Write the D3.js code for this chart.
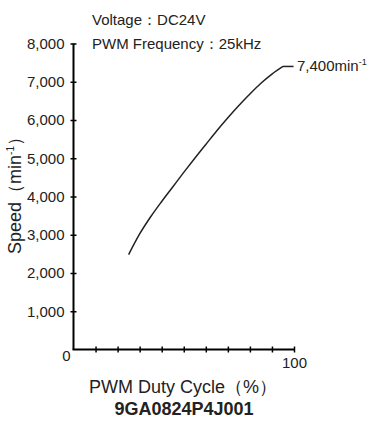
<!DOCTYPE html>
<html>
<head>
<meta charset="utf-8">
<script src="https://cdn.jsdelivr.net/npm/d3@7"></script>
<style>
  body { margin: 0; background: #fff; }
  text { font-family: "Liberation Sans", Arial, sans-serif; fill: #222; }
</style>
</head>
<body>
<script>
// speed vs PWM duty
var duty  = [25, 30, 35, 40, 45, 50, 55, 60, 65, 70, 75, 80, 85, 90, 95];
var speed = [2480, 3020, 3470, 3870, 4250, 4630, 5000, 5360, 5720, 6060, 6380, 6680, 6960, 7200, 7400];

var yTicks = [1000, 2000, 3000, 4000, 5000, 6000, 7000, 8000];
var xTicks = [10, 20, 30, 40, 50, 60, 70, 80, 90, 100];
var notes = ['Voltage：DC24V', 'PWM Frequency：25kHz'];
var maxLabel = '7,400min';
var model = '9GA0824P4J001';

var width = 377, height = 421;

var svg = d3.select('body').append('svg')
    .attr('width', width)
    .attr('height', height);

var x = d3.scaleLinear().domain([0, 100]).range([73.5, 294]);
var y = d3.scaleLinear().domain([0, 8000]).range([349.5, 43.5]);

// y axis
var yAxis = svg.append('g')
    .attr('transform', 'translate(' + x(0) + ',0)')
    .call(d3.axisLeft(y).tickValues(yTicks).tickSizeInner(3).tickSizeOuter(0)
      .tickPadding(6).tickFormat(d3.format(',')));
yAxis.select('.domain').attr('stroke', '#000').attr('stroke-width', 2)
    .attr('d', 'M0,' + y(8000) + 'V' + y(0));
yAxis.selectAll('.tick line').attr('x1', 3).attr('stroke', '#000').attr('stroke-width', 1.5);
yAxis.selectAll('.tick text').style('font-size', '15px').style('fill', '#222')
    .attr('font-family', null);

// x axis
var xAxis = svg.append('g')
    .attr('transform', 'translate(0,' + y(0) + ')')
    .call(d3.axisBottom(x).tickValues(xTicks).tickSizeInner(3).tickSizeOuter(0)
      .tickPadding(5).tickFormat(function(d) { return d === 100 ? '100' : ''; }));
xAxis.select('.domain').attr('stroke', '#000').attr('stroke-width', 2)
    .attr('d', 'M' + (x(0) - 1) + ',0H' + x(100));
xAxis.selectAll('.tick line').attr('y1', -3).attr('stroke', '#000').attr('stroke-width', 1.5);
xAxis.selectAll('.tick text').style('font-size', '15px').style('fill', '#222')
    .attr('font-family', null);

// origin label
svg.append('text')
    .attr('x', x(0) - 7)
    .attr('y', y(0) + 11)
    .attr('text-anchor', 'middle')
    .style('font-size', '15px')
    .text('0');

// curve
var line = d3.line()
    .x(function(d, i) { return x(duty[i]); })
    .y(function(d) { return y(d); })
    .curve(d3.curveMonotoneX);

svg.append('path')
    .datum(speed)
    .attr('d', line)
    .attr('fill', 'none')
    .attr('stroke', '#222')
    .attr('stroke-width', 1.5);

// leader line to the max speed label
var last = speed[speed.length - 1];
svg.append('line')
    .attr('x1', x(duty[duty.length - 1]))
    .attr('x2', x(99.8))
    .attr('y1', y(last))
    .attr('y2', y(last))
    .attr('stroke', '#222')
    .attr('stroke-width', 1.5);

var maxText = svg.append('text')
    .attr('x', x(100) + 3)
    .attr('y', y(last) + 5)
    .style('font-size', '15px')
    .text(maxLabel);
maxText.append('tspan')
    .attr('dy', -6)
    .style('font-size', '9px')
    .text('-1');

// condition notes
svg.selectAll('.note')
    .data(notes)
    .enter().append('text')
    .attr('class', 'note')
    .attr('x', 92)
    .attr('y', function(d, i) { return 25 + i * 24; })
    .style('font-size', '15px')
    .text(function(d) { return d; });

// y title
var yTitle = svg.append('text')
    .attr('transform', 'translate(21,' + 191 + ') rotate(-90)')
    .attr('text-anchor', 'middle')
    .style('font-size', '18px')
    .text('Speed（min');
yTitle.append('tspan')
    .attr('dy', -7)
    .style('font-size', '10px')
    .text('-1');
yTitle.append('tspan')
    .attr('dy', 7)
    .text('）');

// x title
svg.append('text')
    .attr('x', 183)
    .attr('y', 393)
    .attr('text-anchor', 'middle')
    .style('font-size', '18px')
    .text('PWM Duty Cycle（%）');

svg.append('text')
    .attr('x', 184)
    .attr('y', 415)
    .attr('text-anchor', 'middle')
    .style('font-size', '18px')
    .style('font-weight', 'bold')
    .text(model);
</script>
</body>
</html>
